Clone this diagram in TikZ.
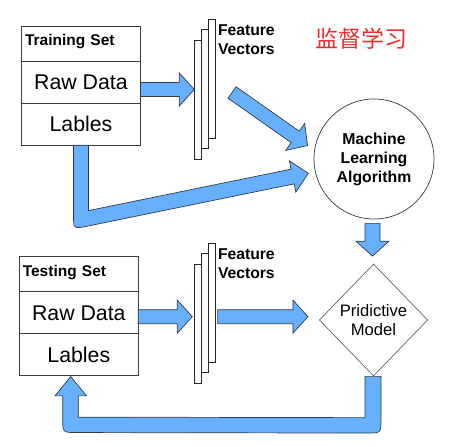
\documentclass[tikz,border=0pt]{standalone}
\usepackage{fontspec}
\setmainfont{Liberation Sans}
\newfontfamily\cjk{Noto Sans CJK SC}
\usetikzlibrary{calc,positioning,shapes.geometric}

\definecolor{arrowblue}{RGB}{102,176,255}
\definecolor{edgegray}{RGB}{50,58,68}
\definecolor{boxgray}{RGB}{60,60,60}
\definecolor{titlered}{RGB}{235,45,45}

% fat block arrow: [shaft half width]{tail}{tip}
\newcommand\fatarrow[3][7pt]{%
  \coordinate (fab) at ($(#3)!15pt!(#2)$);
  \draw[fat] ($(#2)!#1!90:(#3)$) -- ($(fab)!#1!90:(#3)$) -- ($(fab)!16.5pt!90:(#3)$) -- (#3)
    -- ($(fab)!16.5pt!-90:(#3)$) -- ($(fab)!#1!-90:(#3)$) -- ($(#2)!#1!-90:(#3)$) -- cycle;}

\begin{document}
\begin{tikzpicture}[x=1pt, y=-1pt,
    cell/.style={draw=boxgray, line width=0.9pt, minimum width=119pt, minimum height=42pt,
      inner sep=0pt, outer sep=0pt, font=\fontsize{21.3}{24}\selectfont},
    headcell/.style={cell, minimum height=35.3pt, text width=112pt, inner xsep=3.5pt,
      align=left, text depth=7pt, font=\bfseries\fontsize{15.5}{18}\selectfont},
    plate/.style={draw=black!85, line width=0.9pt, fill=white, minimum width=7pt,
      minimum height=119pt, inner sep=0pt, outer sep=0pt},
    fvlabel/.style={anchor=west, align=left, inner sep=0pt, font=\bfseries\fontsize{15.7}{19}\selectfont},
    fat/.style={fill=arrowblue, draw=edgegray, line width=0.7pt},
  ]
  \useasboundingbox (0,0) rectangle (450,447);

  % training set
  \node[headcell] (trainhead) at (81,43.65) {Training Set};
  \node[cell, below=0pt of trainhead] (trainraw) {Raw Data};
  \node[cell, below=0pt of trainraw] (trainlab) {Lables};

  \node[plate] (fvA1) at (197.8,99.5) {};
  \node[plate, right=0pt of fvA1, yshift=10.5pt] (fvA2) {};
  \node[plate, right=0pt of fvA2, yshift=10.5pt] (fvA3) {};
  \node[fvlabel] (fvAtext) at ($(fvA3.north east)+(2.5,20.5)$) {Feature\\Vectors};

  \node[text=titlered, font=\cjk\fontsize{23}{23}\selectfont] (title) at (361.5,39) {监督学习};

  \node[circle, draw=edgegray, line width=0.7pt, minimum size=120pt, inner sep=0pt, align=center,
    font=\bfseries\fontsize{15.8}{19}\selectfont] (mla) at (374,159) {Machine\\Learning\\Algorithm};

  % testing set
  \node[headcell] (testhead) at (78.8,274.2) {Testing Set};
  \node[cell, below=0pt of testhead] (testraw) {Raw Data};
  \node[cell, below=0pt of testraw] (testlab) {Lables};

  \node[plate] (fvB1) at (197.8,323.7) {};
  \node[plate, right=0pt of fvB1, yshift=10.5pt] (fvB2) {};
  \node[plate, right=0pt of fvB2, yshift=10.5pt] (fvB3) {};
  \node[fvlabel] (fvBtext) at ($(fvB3.north east)+(2.5,20.5)$) {Feature\\Vectors};

  \node[diamond, draw=black!60, line width=0.7pt, minimum width=108.4pt, minimum height=112pt,
    inner sep=0pt, align=center, font=\fontsize{16.6}{19.5}\selectfont] (pm) at (373.5,320) {Pridictive\\Model};

  % straight arrows
  \coordinate (a1s) at ($(trainraw.east)+(0,7.2)$);
  \coordinate (a1e) at (a1s -| fvA1.west);
  \fatarrow{a1s}{a1e}
  \coordinate (a2s) at (232,92.5);
  \coordinate (a2e) at ($(mla.center)+(-66.5,-13.5)$);
  \fatarrow{a2s}{a2e}
  \coordinate (a4s) at ($(mla.south)+(-1.5,4)$);
  \coordinate (a4e) at ($(a4s |- pm.north)+(0,-7.5)$);
  \fatarrow[7.5pt]{a4s}{a4e}
  \coordinate (a5s) at ($(testraw.east)+(0,3.8)$);
  \coordinate (a5e) at ($(a5s -| fvB1.west)+(-2,0)$);
  \fatarrow{a5s}{a5e}
  \coordinate (a6s) at ($(a5s -| fvB3.east)+(2.3,0)$);
  \coordinate (a6e) at ($(a6s -| pm.west)+(-11,0)$);
  \fatarrow{a6s}{a6e}

  % lables -> algorithm, bent
  \coordinate (lk) at ($(trainlab.south)+(0,74.5)$);
  \coordinate (lt) at ($(mla.center)+(-65.7,14.3)$);
  \coordinate (lb) at ($(lt)!16pt!(lk)$);
  \coordinate (la1) at ($(trainlab.south)+(-7.5,0)$);
  \coordinate (la2) at ($(trainlab.south)+(7.5,0)$);
  \coordinate (la3) at ($(la1)+(0,100)$);
  \coordinate (la4) at ($(la2)+(0,100)$);
  \coordinate (ld1) at ($(lk)!7.5pt!-90:(lt)$);
  \coordinate (ld2) at ($(lb)!7.5pt!-90:(lt)$);
  \coordinate (lu1) at ($(lk)!7.5pt!90:(lt)$);
  \coordinate (lu2) at ($(lb)!7.5pt!90:(lt)$);
  \coordinate (lc) at (intersection of la1--la3 and ld1--ld2);
  \draw[fat] (la1) -- ($(lc)+(0,-14)$) .. controls (lc) .. ($(lc)!14pt!(ld2)$) -- (ld2)
    -- ($(lb)!16pt!-90:(lt)$) -- (lt) -- ($(lb)!16pt!90:(lt)$) -- (lu2)
    -- (intersection of la2--la4 and lu1--lu2) -- (la2) -- cycle;

  % model -> testing lables, bent back
  \coordinate (ra) at ($(pm.south)+(-8.5,0)$);
  \coordinate (rb) at ($(pm.south)+(7.5,0)$);
  \coordinate (rt) at ($(testlab.south)+(-8.1,0.7)$);
  \draw[fat] (ra) -- ($(ra)+(0,41.3)$) -- ($(rt)+(7.6,40.6)$) -- ($(rt)+(7.6,19.3)$)
    -- ($(rt)+(15.8,19.3)$) -- (rt) -- ($(rt)+(-15.7,19.3)$) -- ($(rt)+(-8,19.3)$)
    -- ($(rt)+(-8,42)$) .. controls ($(rt)+(-8,56)$) .. ($(rt)+(6,56)$)
    -- ($(rb)+(-14,56.7)$) .. controls ($(rb)+(0,56.7)$) .. ($(rb)+(0,42.7)$) -- (rb) -- cycle;
\end{tikzpicture}
\end{document}
